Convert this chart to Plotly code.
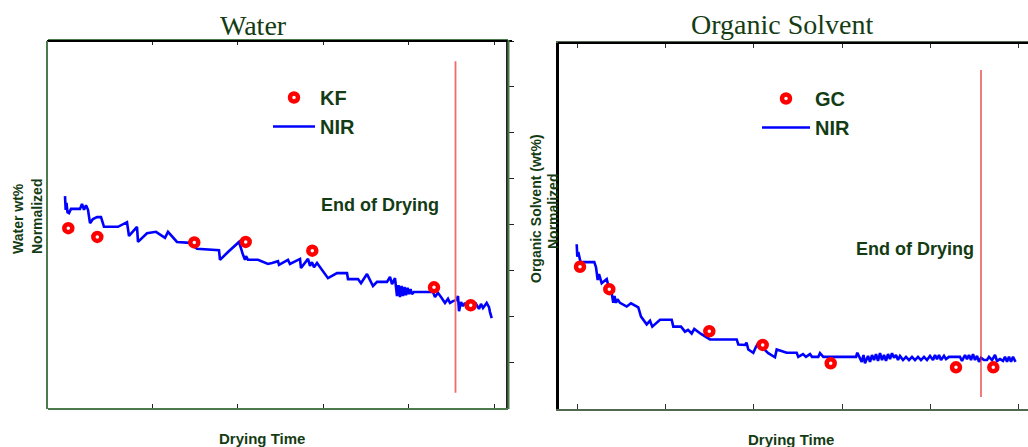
import plotly.graph_objects as go

W, H = 1028, 447

# ---- Water panel (NIR trace vs. Karl Fischer reference) ----
water_nir_time = [17, 17.7, 18.5, 19.5, 21, 23, 32, 34, 36, 38, 40, 42, 45, 49, 53, 56, 70, 79, 81, 89,
                  90, 99, 108, 117, 120, 129, 142, 149, 171, 172, 180, 186, 191, 195, 197, 198, 200, 210,
                  220, 224, 230, 231, 240, 242, 252, 253, 260, 262, 264, 266, 269, 280, 289, 299, 300, 310,
                  313, 319, 322, 325, 329, 339, 342, 344, 347, 349, 350.5, 352, 353.5, 355, 356.5, 358,
                  359.5, 361, 362.5, 364, 366, 385, 387, 390, 393, 397, 400, 402, 405, 408, 410, 411, 413,
                  415, 417, 419, 422, 425, 428, 431, 433, 435, 438.7, 441, 442, 443.7]
water_nir_value = [4.62, 4.32, 4.47, 4.27, 4.25, 4.34, 4.34, 4.45, 4.32, 4.42, 4.32, 4.03, 4.12, 4.16, 4.16,
                   3.95, 3.95, 4.05, 3.75, 3.95, 3.62, 3.81, 3.84, 3.71, 3.84, 3.62, 3.60, 3.47, 3.44, 3.23,
                   3.40, 3.51, 3.62, 3.34, 3.23, 3.31, 3.23, 3.23, 3.14, 3.16, 3.20, 3.12, 3.23, 3.14, 3.25,
                   3.05, 3.25, 3.10, 3.18, 3.07, 3.16, 2.83, 2.94, 2.94, 2.81, 2.81, 2.72, 2.92, 2.77, 2.66,
                   2.75, 2.75, 2.86, 2.70, 2.83, 2.44, 2.68, 2.42, 2.66, 2.44, 2.64, 2.46, 2.62, 2.48, 2.59,
                   2.48, 2.53, 2.53, 2.42, 2.51, 2.42, 2.29, 2.38, 2.29, 2.33, 2.35, 2.44, 2.11, 2.31, 2.22,
                   2.29, 2.20, 2.27, 2.20, 2.27, 2.16, 2.27, 2.18, 2.29, 2.20, 2.09, 1.96]
water_kf_time = [20.3, 49.3, 146.3, 197.7, 264.3, 386, 422.7]
water_kf_value = [3.92, 3.73, 3.61, 3.62, 3.43, 2.63, 2.24]
water_end_time = 407.5

# ---- Organic solvent panel (NIR trace vs. GC reference) ----
solv_nir_time = [17.7, 18.3, 19.3, 20.5, 21.5, 35.3, 37, 38.7, 40, 42.7, 45, 47.7, 50, 52.7, 54.3, 55.5, 57,
                 58.5, 61, 67.7, 72, 79.3, 82, 87.7, 91, 93.3, 101, 112.7, 114.3, 122, 126, 129, 132.7,
                 135.3, 142, 149.3, 151, 177.7, 179.3, 186, 187.5, 189.3, 194.3, 197, 199, 209.3, 216,
                 217.7, 227.7, 237.7, 239.3, 244, 247, 251, 253, 259.3, 261, 264.3, 297, 298.3, 302.7,
                 304.5, 306, 309, 311, 313, 315, 317, 319, 321, 323, 325, 327, 329, 331, 333, 335, 337,
                 339, 341, 344, 347, 350, 353, 356, 359, 362, 365, 368, 371, 374, 376, 378, 380, 382, 385,
                 387, 390, 394, 401, 403, 406, 408, 410, 412, 414, 416, 418, 420, 422, 425, 428, 430, 433,
                 436, 438, 441, 444, 446, 448, 450, 452, 454, 456.5]
solv_nir_value = [3.60, 3.33, 3.43, 3.32, 3.21, 3.21, 3.10, 2.82, 2.95, 2.75, 2.80, 2.84, 2.64, 2.53, 2.32,
                  2.47, 2.32, 2.40, 2.32, 2.24, 2.31, 2.22, 2.02, 1.85, 1.93, 1.80, 1.95, 1.95, 1.80, 1.80,
                  1.69, 1.73, 1.65, 1.75, 1.64, 1.55, 1.52, 1.52, 1.41, 1.40, 1.45, 1.30, 1.23, 1.36, 1.43,
                  1.22, 1.13, 1.30, 1.23, 1.23, 1.14, 1.20, 1.14, 1.20, 1.14, 1.14, 1.22, 1.14, 1.14, 1.23,
                  1.03, 1.18, 1.00, 1.16, 1.03, 1.18, 1.07, 1.20, 1.05, 1.22, 1.07, 1.18, 1.05, 1.20, 1.09,
                  1.22, 1.12, 1.18, 1.07, 1.16, 1.07, 1.14, 1.07, 1.14, 1.07, 1.14, 1.07, 1.14, 1.07, 1.16,
                  1.07, 1.18, 1.09, 1.18, 1.07, 1.16, 1.09, 1.14, 1.14, 1.14, 1.05, 1.18, 1.09, 1.18, 1.07,
                  1.20, 1.07, 1.16, 1.03, 1.12, 1.07, 1.07, 1.14, 1.07, 1.18, 1.05, 1.09, 1.05, 1.14, 1.03,
                  1.14, 1.03, 1.14, 1.03]
solv_gc_time = [21, 50.3, 150.3, 203.7, 271.7, 397, 434.3]
solv_gc_value = [3.11, 2.62, 1.70, 1.40, 1.00, 0.91, 0.91]
solv_end_time = 422

# axis ticks (no labels are shown on any axis)
water_xticks = [104, 189.5, 275, 360.5, 446]
water_yticks = [1, 2, 3, 4, 5, 6, 7, 8]
solv_xticks = [18, 106, 194, 283, 371, 459]

# ---- styling ----
TXT = "#143c14"
GREEN_AX = "#4d7a4d"
BLUE = "#0000ff"
RED = "#ff0000"
SANS = "Liberation Sans, Arial, sans-serif"
SERIF = "Liberation Serif, Times New Roman, serif"


def px_x(p):
    return p / W


def px_y(p):
    return 1 - p / H


water_dom_x = [px_x(48), px_x(506)]
water_dom_y = [px_y(408), px_y(41)]
solv_dom_x = [px_x(559), 1.0]
solv_dom_y = [px_y(409), px_y(43)]
water_xr = [0, 458]
solv_xr = [0, 469]
yr = [0, 8]

marker_style = dict(size=8, color="white", line=dict(color=RED, width=4.5))

fig = go.Figure()

fig.add_trace(go.Scatter(x=water_nir_time, y=water_nir_value, mode="lines", name="NIR",
                         line=dict(color=BLUE, width=2.6), xaxis="x", yaxis="y",
                         legend="legend", legendrank=2))
fig.add_trace(go.Scatter(x=water_kf_time, y=water_kf_value, mode="markers", name="KF",
                         marker=marker_style, xaxis="x", yaxis="y",
                         legend="legend", legendrank=1))
fig.add_trace(go.Scatter(x=solv_nir_time, y=solv_nir_value, mode="lines", name="NIR",
                         line=dict(color=BLUE, width=2.6), xaxis="x2", yaxis="y2",
                         legend="legend2", legendrank=2))
fig.add_trace(go.Scatter(x=solv_gc_time, y=solv_gc_value, mode="markers", name="GC",
                         marker=marker_style, xaxis="x2", yaxis="y2",
                         legend="legend2", legendrank=1))


def frame_line(x0, y0, x1, y1, color, width):
    fig.add_shape(type="line", xref="paper", yref="paper", layer="above",
                  x0=px_x(x0), x1=px_x(x1), y0=px_y(y0), y1=px_y(y1),
                  line=dict(color=color, width=width))


# end-of-drying markers
fig.add_shape(type="line", xref="x", yref="y", x0=water_end_time, x1=water_end_time, y0=0.33, y1=7.56,
              line=dict(color="#f26a6a", width=1.8))
fig.add_shape(type="line", xref="x2", yref="y2", x0=solv_end_time, x1=solv_end_time, y0=0.26, y1=7.41,
              line=dict(color="#e52424", width=1.2))

# frame pieces: black top edges, green left edge / outer right edge of the water panel
frame_line(47, 41, 512, 41, "black", 2)
frame_line(47, 409, 47, 41, GREEN_AX, 2)
frame_line(508.5, 409, 508.5, 40, GREEN_AX, 2)
frame_line(558, 43, 1028, 43, "black", 2)

common = dict(showgrid=False, zeroline=False, showticklabels=False)

fig.update_layout(
    width=W, height=H, margin=dict(l=0, r=0, t=0, b=0),
    paper_bgcolor="white", plot_bgcolor="white", template="none",
    # water panel
    xaxis=dict(domain=water_dom_x, range=water_xr, anchor="y", showline=True, linecolor=GREEN_AX,
               linewidth=2, ticks="inside", ticklen=4, tickcolor="#222", tickvals=water_xticks,
               mirror="ticks", **common),
    yaxis=dict(domain=water_dom_y, range=yr, anchor="x", side="right", showline=True, linecolor="#222",
               linewidth=1.5, ticks="outside", ticklen=6, tickcolor="#222", tickvals=water_yticks,
               **common),
    # organic solvent panel
    xaxis2=dict(domain=solv_dom_x, range=solv_xr, anchor="y2", showline=True, linecolor="#50684f",
                linewidth=2, ticks="inside", ticklen=5, tickcolor="#333", tickvals=solv_xticks,
                mirror="ticks", **common),
    yaxis2=dict(domain=solv_dom_y, range=yr, anchor="x2", showline=True, linecolor="black", linewidth=2.5,
                ticks="", **common),
    legend=dict(x=px_x(268), y=px_y(78), xanchor="left", yanchor="top", bgcolor="rgba(0,0,0,0)",
                borderwidth=0, itemwidth=42,
                font=dict(family=SANS, size=20, color=TXT, weight="bold")),
    legend2=dict(x=px_x(757), y=px_y(79), xanchor="left", yanchor="top", bgcolor="rgba(0,0,0,0)",
                 borderwidth=0, itemwidth=48,
                 font=dict(family=SANS, size=20, color=TXT, weight="bold")),
    showlegend=True,
)


def label(text, x, y, size, family=SANS, weight="bold", angle=0):
    fig.add_annotation(text=text, xref="paper", yref="paper", x=px_x(x), y=px_y(y),
                       xanchor="center", yanchor="middle", showarrow=False, textangle=angle,
                       font=dict(family=family, size=size, color=TXT, weight=weight))


# panel titles
label("Water", 253, 26, 28, family=SERIF, weight="normal")
label("Organic Solvent", 782, 25, 28, family=SERIF, weight="normal")
# y-axis titles
label("Water wt%", 18, 219, 14, angle=-90)
label("Normalized", 37, 217, 14, angle=-90)
label("Organic Solvent (wt%)", 536, 209, 14, angle=-90)
label("Normalized", 553, 212, 14, angle=-90)
# x-axis titles
label("Drying Time", 262, 438, 15)
label("Drying Time", 791, 439, 15)

# end-of-drying notes
fig.add_annotation(text="End of Drying", xref="x", yref="y", x=332, y=4.43, showarrow=False,
                   xanchor="center", yanchor="middle",
                   font=dict(family=SANS, size=18, color=TXT, weight="bold"))
fig.add_annotation(text="End of Drying", xref="x2", yref="y2", x=356, y=3.49, showarrow=False,
                   xanchor="center", yanchor="middle",
                   font=dict(family=SANS, size=18, color=TXT, weight="bold"))

fig.write_html("out.html")
